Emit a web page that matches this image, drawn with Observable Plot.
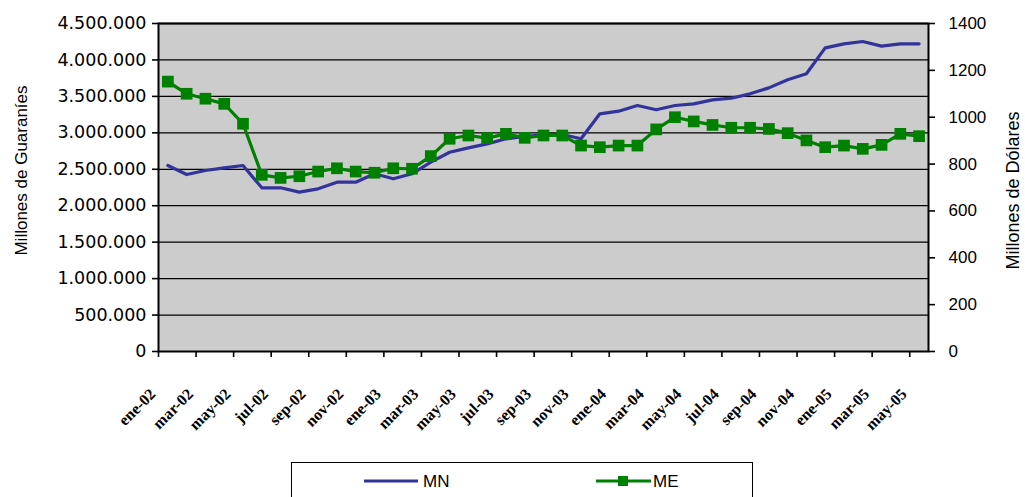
<!DOCTYPE html>
<html><head><meta charset="utf-8">
<script src="https://cdn.jsdelivr.net/npm/d3@7"></script>
<script src="https://cdn.jsdelivr.net/npm/@observablehq/plot@0.6"></script>
<style>
body{margin:0}
#legend{position:absolute;left:291px;top:462px;width:462px;height:35px;border:1.5px solid #000;border-bottom:none;box-sizing:border-box;background:#fff;}
#legend svg{position:absolute;left:0;top:0}
</style></head><body>
<div id="chart"></div>
<div id="legend">
<svg width="458" height="33" font-family="Liberation Sans, Arial, sans-serif" font-size="17">
<line x1="72" x2="126" y1="18" y2="18" stroke="#333399" stroke-width="3.2"/>
<text x="131" y="24">MN</text>
<line x1="304" x2="359" y1="18" y2="18" stroke="#008000" stroke-width="3.2"/>
<rect x="326" y="13" width="10" height="10" fill="#008000"/>
<text x="361" y="24">ME</text>
</svg>
</div>
<script>
const months = ["ene-02","feb-02","mar-02","abr-02","may-02","jun-02","jul-02","ago-02","sep-02","oct-02","nov-02","dic-02",
  "ene-03","feb-03","mar-03","abr-03","may-03","jun-03","jul-03","ago-03","sep-03","oct-03","nov-03","dic-03",
  "ene-04","feb-04","mar-04","abr-04","may-04","jun-04","jul-04","ago-04","sep-04","oct-04","nov-04","dic-04",
  "ene-05","feb-05","mar-05","abr-05","may-05"];
const mn = [2552000,2428000,2483000,2520000,2552000,2246000,2246000,2186000,2232000,2323000,
  2323000,2438000,2369000,2438000,2597000,2734000,2794000,2849000,2918000,2950000,
  2977000,2977000,2918000,3261000,3297000,3375000,3316000,3375000,3398000,3453000,
  3475000,3535000,3617000,3727000,3810000,4166000,4221000,4253000,4189000,4221000,4221000];
const me = [1152,1100,1079,1057,972,754,741,748,768,782,
  768,763,782,780,834,908,922,911,929,912,
  922,922,879,872,879,879,948,1000,982,967,
  955,955,950,932,901,872,879,865,882,929,919];
const leftTicks = [0,500000,1000000,1500000,2000000,2500000,3000000,3500000,4000000,4500000];
const rightTicks = [0,200,400,600,800,1000,1200,1400];
const leftTitle = "Millones de Guaraníes";
const rightTitle = "Millones de Dólares";

const k = 4500000 / 1400;
const rows = months.map((m, i) => ({i, month: m, mn: mn[i], me: me[i]}));
const labelIdx = months.map((m, i) => i).filter(i => i % 2 === 0);
const tickPos = labelIdx.map(i => i - 0.5);
const loc = d3.formatLocale({thousands: ".", grouping: [3], decimal: ",", currency: ["", ""]});
const fmt = loc.format(",");

const chart = Plot.plot({
  width: 1025, height: 455,
  marginLeft: 158, marginRight: 97, marginTop: 23, marginBottom: 104,
  x: {type: "linear", domain: [-0.5, months.length - 0.5], axis: null, label: null},
  y: {domain: [0, 4500000], axis: null, label: null},
  style: {fontFamily: "Liberation Sans, Arial, sans-serif", background: "white"},
  marks: [
    Plot.frame({fill: "#cccccc"}),
    Plot.ruleY(leftTicks.slice(1), {stroke: "#000", strokeWidth: 1.3}),
    Plot.line(rows, {x: "i", y: "mn", stroke: "#333399", strokeWidth: 3.2}),
    Plot.line(rows, {x: "i", y: d => d.me * k, stroke: "#008000", strokeWidth: 3.2}),
    Plot.dot(rows, {x: "i", y: d => d.me * k, symbol: "square", fill: "#008000", r: 6.6}),
    Plot.frame({stroke: "#000", strokeWidth: 2}),
    Plot.axisY({ticks: leftTicks, tickFormat: fmt, tickSize: 6, tickPadding: 6, fontSize: 17.5, fontFamily: "DejaVu Sans, Verdana, sans-serif", strokeWidth: 1.6, label: null}),
    Plot.axisY({anchor: "right", ticks: rightTicks.map(v => v * k), tickFormat: v => String(Math.round(v / k)), tickSize: 6, tickPadding: 14, fontSize: 17, strokeWidth: 1.6, label: null}),
    Plot.axisX({ticks: tickPos, tickSize: 6, tickFormat: () => "", strokeWidth: 1.6, label: null}),
    Plot.text(labelIdx, {x: d => d, y: () => 0, text: d => months[d], rotate: -45, textAnchor: "end",
      dx: -15, dy: 40, fontFamily: "Liberation Serif, Times New Roman, serif", fontWeight: "bold", fontSize: 16}),
    Plot.text([leftTitle], {frameAnchor: "left", text: d => d, rotate: -90, textAnchor: "middle", dx: -137, dy: -17, fontSize: 17}),
    Plot.text([rightTitle], {frameAnchor: "right", text: d => d, rotate: -90, textAnchor: "middle", dx: 85, dy: 3, fontSize: 18})
  ]
});
document.getElementById("chart").appendChild(chart);
</script>
</body></html>
